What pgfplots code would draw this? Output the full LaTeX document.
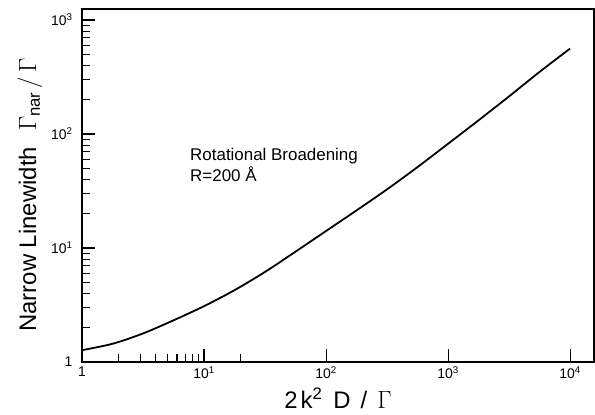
\documentclass[border=0pt]{standalone}
\usepackage{amsmath}
\usepackage{pgfplots}
\pgfplotsset{compat=1.18}
\usepackage{fontspec}
\setmainfont{Liberation Sans}
\begin{document}
\begin{tikzpicture}
\begin{axis}[
  xmode=log, ymode=log,
  scale only axis, width=512bp, height=353bp,
  xmin=1, xmax=15700, ymin=1, ymax=1250,
  axis line style={line width=1.6bp},
  xtick={1,10,100,1000,10000},
  xticklabels={1,10\textsuperscript{1},10\textsuperscript{2},10\textsuperscript{3},10\textsuperscript{4}},
  ytick={1,10,100,1000},
  yticklabels={1,10\textsuperscript{1},10\textsuperscript{2},10\textsuperscript{3}},
  minor xtick={2,3,4,5,6,7,8,9,20},
  minor ytick={2,3,4,5,6,7,8,9,20,30,40,50,60,70,80,90,200,300,400,500,600,700,800,900},
  xtick pos=left, ytick pos=left,
  tick align=inside,
  major tick length=13bp, minor tick length=8bp,
  every tick/.style={line width=1.1bp, black},
  tick label style={font=\fontsize{14}{14}\selectfont},
  xticklabel style={yshift=-1bp},
  yticklabel style={xshift=-6bp},
  xlabel={2\hspace{3bp}k\textsuperscript{2}\hspace{11bp}D\hspace{10bp}/\hspace{10bp}$\Gamma$},
  ylabel={Narrow Linewidth\hspace{16bp}$\Gamma_{\text{nar}}\hspace{4bp}/\hspace{4bp}\Gamma$},
  every axis x label/.style={at={(rel axis cs:0.5,0)}, anchor=north, yshift=-22bp, font=\fontsize{24}{24}\selectfont},
  every axis y label/.style={at={(rel axis cs:-0.1016,0.473)}, rotate=90, anchor=center, font=\fontsize{24}{24}\selectfont},
]
\addplot[black, line width=1.8bp, smooth] coordinates {
(1,1.27) (1.78,1.445) (3.16,1.78) (5.62,2.32) (10,3.09) (17.8,4.27) (31.6,6.17)
(56.2,9.29) (100,14.1) (178,21.4) (316,32.7) (562,51.3) (1000,82.2)
(1778,132) (3162,214) (5623,351) (10000,562)
};
\node[anchor=north west, align=left, inner sep=0pt, font=\fontsize{17}{21}\selectfont]
  at (rel axis cs:0.211,0.607) {Rotational Broadening\\R=200 Å};
\end{axis}
\pgfresetboundingbox
\path (current axis.south west) ++(-82bp,-53bp) rectangle ++(595bp,415bp);
\end{tikzpicture}
\end{document}
